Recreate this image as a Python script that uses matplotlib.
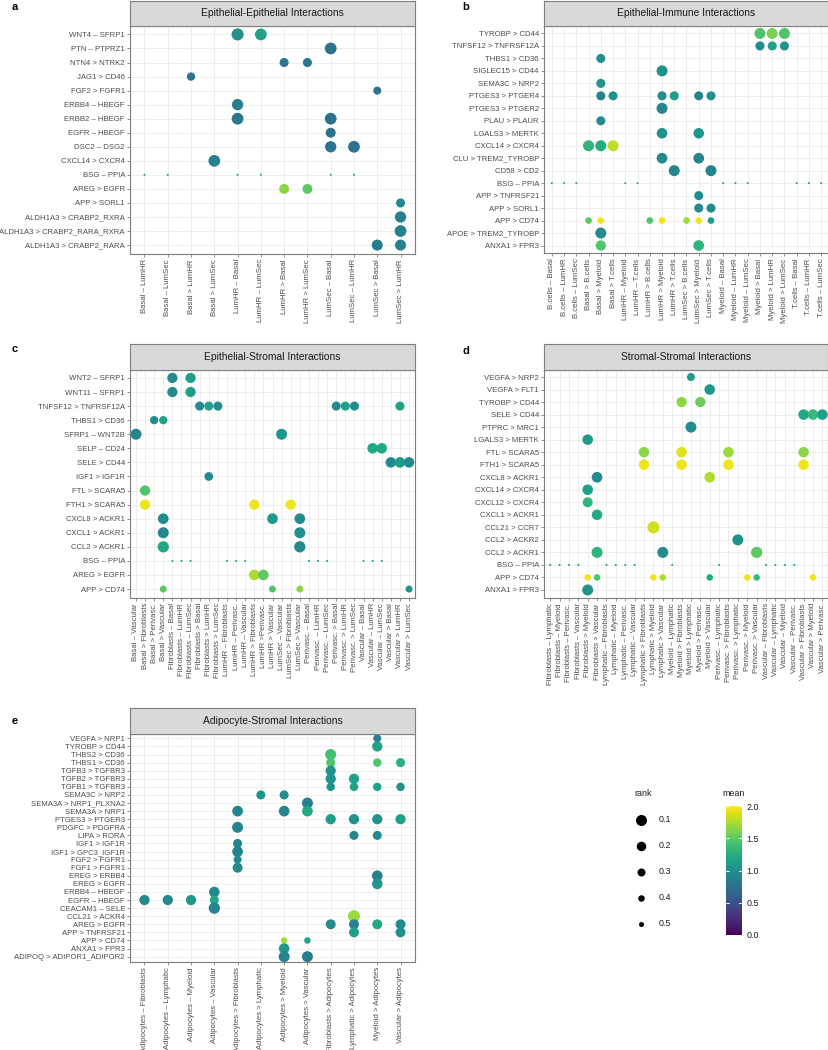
import matplotlib
matplotlib.use("Agg")
import matplotlib.pyplot as plt
from matplotlib.colors import Normalize
from matplotlib import colormaps
import numpy as np

plt.rcParams['font.family'] = ['Liberation Sans', 'DejaVu Sans']

D = "\u2013"

# ---------------- Panel a ----------------
a_title = "Epithelial-Epithelial Interactions"
a_rows = [f"WNT4 {D} SFRP1", f"PTN {D} PTPRZ1", "NTN4 > NTRK2", "JAG1 > CD46", "FGF2 > FGFR1",
          f"ERBB4 {D} HBEGF", f"ERBB2 {D} HBEGF", f"EGFR {D} HBEGF", f"DSC2 {D} DSG2", "CXCL14 > CXCR4",
          f"BSG {D} PPIA", "AREG > EGFR", "APP > SORL1", "ALDH1A3 > CRABP2_RXRA",
          "ALDH1A3 > CRABP2_RARA_RXRA", "ALDH1A3 > CRABP2_RARA"]
a_cols = [f"Basal {D} LumHR", f"Basal {D} LumSec", "Basal > LumHR", "Basal > LumSec",
          f"LumHR {D} Basal", f"LumHR {D} LumSec", "LumHR > Basal", "LumHR > LumSec",
          f"LumSec {D} Basal", f"LumSec {D} LumHR", "LumSec > Basal", "LumSec > LumHR"]
a_points = [
    (f"WNT4 {D} SFRP1", 4, 1.0, 0.03), (f"WNT4 {D} SFRP1", 5, 1.15, 0.05),
    (f"PTN {D} PTPRZ1", 8, 0.75, 0.05),
    ("NTN4 > NTRK2", 6, 0.78, 0.23), ("NTN4 > NTRK2", 7, 0.78, 0.23),
    ("JAG1 > CD46", 2, 0.75, 0.28),
    ("FGF2 > FGFR1", 10, 0.75, 0.30),
    (f"ERBB4 {D} HBEGF", 4, 0.85, 0.08),
    (f"ERBB2 {D} HBEGF", 4, 0.78, 0.05), (f"ERBB2 {D} HBEGF", 8, 0.72, 0.05),
    (f"EGFR {D} HBEGF", 8, 0.75, 0.17),
    (f"DSC2 {D} DSG2", 8, 0.75, 0.08), (f"DSC2 {D} DSG2", 9, 0.75, 0.05),
    ("CXCL14 > CXCR4", 3, 0.88, 0.05),
    (f"BSG {D} PPIA", 0, 1.1, 0.7), (f"BSG {D} PPIA", 1, 1.1, 0.7), (f"BSG {D} PPIA", 4, 1.1, 0.7),
    (f"BSG {D} PPIA", 5, 1.1, 0.7), (f"BSG {D} PPIA", 8, 1.1, 0.7), (f"BSG {D} PPIA", 9, 1.1, 0.7),
    ("AREG > EGFR", 6, 1.65, 0.17), ("AREG > EGFR", 7, 1.5, 0.17),
    ("APP > SORL1", 11, 0.92, 0.23),
    ("ALDH1A3 > CRABP2_RXRA", 11, 0.85, 0.08),
    ("ALDH1A3 > CRABP2_RARA_RXRA", 11, 0.85, 0.05),
    ("ALDH1A3 > CRABP2_RARA", 10, 0.85, 0.10), ("ALDH1A3 > CRABP2_RARA", 11, 0.85, 0.10),
]

# ---------------- Panel b ----------------
b_title = "Epithelial-Immune Interactions"
b_rows = ["TYROBP > CD44", "TNFSF12 > TNFRSF12A", "THBS1 > CD36", "SIGLEC15 > CD44", "SEMA3C > NRP2",
          "PTGES3 > PTGER4", "PTGES3 > PTGER2", "PLAU > PLAUR", "LGALS3 > MERTK", "CXCL14 > CXCR4",
          "CLU > TREM2_TYROBP", "CD58 > CD2", f"BSG {D} PPIA", "APP > TNFRSF21", "APP > SORL1",
          "APP > CD74", "APOE > TREM2_TYROBP", "ANXA1 > FPR3"]
b_cols = [f"B.cells {D} Basal", f"B.cells {D} LumHR", f"B.cells {D} LumSec", "Basal > B.cells",
          "Basal > Myeloid", "Basal > T.cells", f"LumHR {D} Myeloid", f"LumHR {D} T.cells",
          "LumHR > B.cells", "LumHR > Myeloid", "LumHR > T.cells", "LumSec > B.cells",
          "LumSec > Myeloid", "LumSec > T.cells", f"Myeloid {D} Basal", f"Myeloid {D} LumHR",
          f"Myeloid {D} LumSec", "Myeloid > Basal", "Myeloid > LumHR", "Myeloid > LumSec",
          f"T.cells {D} Basal", f"T.cells {D} LumHR", f"T.cells {D} LumSec"]
b_points = [
    ("TYROBP > CD44", 17, 1.45, 0.10), ("TYROBP > CD44", 18, 1.6, 0.10), ("TYROBP > CD44", 19, 1.45, 0.10),
    ("TNFSF12 > TNFRSF12A", 17, 0.95, 0.23), ("TNFSF12 > TNFRSF12A", 18, 1.15, 0.23),
    ("TNFSF12 > TNFRSF12A", 19, 1.0, 0.23),
    ("THBS1 > CD36", 4, 1.0, 0.23),
    ("SIGLEC15 > CD44", 9, 1.02, 0.10),
    ("SEMA3C > NRP2", 4, 1.02, 0.23),
    ("PTGES3 > PTGER4", 4, 0.9, 0.23), ("PTGES3 > PTGER4", 5, 1.02, 0.23),
    ("PTGES3 > PTGER4", 9, 0.97, 0.23), ("PTGES3 > PTGER4", 10, 1.12, 0.23),
    ("PTGES3 > PTGER4", 12, 0.9, 0.23), ("PTGES3 > PTGER4", 13, 1.0, 0.23),
    ("PTGES3 > PTGER2", 9, 0.9, 0.10),
    ("PLAU > PLAUR", 4, 0.97, 0.23),
    ("LGALS3 > MERTK", 9, 1.02, 0.13), ("LGALS3 > MERTK", 12, 1.05, 0.13),
    ("CXCL14 > CXCR4", 3, 1.3, 0.10), ("CXCL14 > CXCR4", 4, 1.22, 0.10), ("CXCL14 > CXCR4", 5, 1.8, 0.10),
    ("CLU > TREM2_TYROBP", 9, 0.95, 0.12), ("CLU > TREM2_TYROBP", 12, 0.9, 0.12),
    ("CD58 > CD2", 10, 0.9, 0.10), ("CD58 > CD2", 13, 0.9, 0.10),
    (f"BSG {D} PPIA", 0, 1.1, 0.7), (f"BSG {D} PPIA", 1, 1.1, 0.7), (f"BSG {D} PPIA", 2, 1.1, 0.7),
    (f"BSG {D} PPIA", 6, 1.1, 0.7), (f"BSG {D} PPIA", 7, 1.1, 0.7), (f"BSG {D} PPIA", 14, 1.1, 0.7),
    (f"BSG {D} PPIA", 15, 1.1, 0.7), (f"BSG {D} PPIA", 16, 1.1, 0.7), (f"BSG {D} PPIA", 20, 1.1, 0.7),
    (f"BSG {D} PPIA", 21, 1.1, 0.7), (f"BSG {D} PPIA", 22, 1.1, 0.7),
    ("APP > TNFRSF21", 12, 0.98, 0.23),
    ("APP > SORL1", 12, 0.95, 0.23), ("APP > SORL1", 13, 0.95, 0.23),
    ("APP > CD74", 3, 1.5, 0.39), ("APP > CD74", 4, 1.95, 0.39), ("APP > CD74", 8, 1.45, 0.39),
    ("APP > CD74", 9, 1.95, 0.39), ("APP > CD74", 11, 1.7, 0.39), ("APP > CD74", 12, 1.95, 0.39),
    ("APP > CD74", 13, 1.1, 0.39),
    ("APOE > TREM2_TYROBP", 4, 0.95, 0.10),
    ("ANXA1 > FPR3", 4, 1.45, 0.15), ("ANXA1 > FPR3", 12, 1.3, 0.12),
]

# ---------------- Panel c ----------------
c_title = "Epithelial-Stromal Interactions"
c_rows = [f"WNT2 {D} SFRP1", f"WNT11 {D} SFRP1", "TNFSF12 > TNFRSF12A", "THBS1 > CD36", f"SFRP1 {D} WNT2B",
          f"SELP {D} CD24", "SELE > CD44", "IGF1 > IGF1R", "FTL > SCARA5", "FTH1 > SCARA5",
          "CXCL8 > ACKR1", "CXCL1 > ACKR1", "CCL2 > ACKR1", f"BSG {D} PPIA", "AREG > EGFR", "APP > CD74"]
c_cols = [f"Basal {D} Vascular", "Basal > Fibroblasts", "Basal > Perivasc.", "Basal > Vascular",
          f"Fibroblasts {D} Basal", f"Fibroblasts {D} LumHR", f"Fibroblasts {D} LumSec",
          "Fibroblasts > Basal", "Fibroblasts > LumHR", "Fibroblasts > LumSec",
          f"LumHR {D} Fibroblasts", f"LumHR {D} Perivasc.", f"LumHR {D} Vascular",
          "LumHR > Fibroblasts", "LumHR >Perivasc.", "LumHR > Vascular", f"LumSec {D} Vascular",
          "LumSec > Fibroblasts", "LumSec > Vascular", f"Perivasc. {D} Basal", f"Perivasc. {D} LumHR",
          f"Perivasc. {D} LumSec", "Perivasc. > Basal", "Perivasc. > LumHR", "Perivasc. > LumSec",
          f"Vascular {D} Basal", f"Vascular {D} LumHR", f"Vascular {D} LumSec", "Vascular > Basal",
          "Vascular > LumHR", "Vascular > LumSec"]
c_points = [
    (f"WNT2 {D} SFRP1", 4, 0.95, 0.15), (f"WNT2 {D} SFRP1", 6, 1.12, 0.15),
    (f"WNT11 {D} SFRP1", 4, 0.95, 0.15), (f"WNT11 {D} SFRP1", 6, 1.12, 0.15),
    ("TNFSF12 > TNFRSF12A", 7, 0.95, 0.23), ("TNFSF12 > TNFRSF12A", 8, 1.15, 0.23),
    ("TNFSF12 > TNFRSF12A", 9, 0.98, 0.23), ("TNFSF12 > TNFRSF12A", 22, 0.95, 0.23),
    ("TNFSF12 > TNFRSF12A", 23, 1.15, 0.23), ("TNFSF12 > TNFRSF12A", 24, 0.98, 0.23),
    ("TNFSF12 > TNFRSF12A", 29, 1.15, 0.23),
    ("THBS1 > CD36", 2, 0.95, 0.28), ("THBS1 > CD36", 3, 1.15, 0.28),
    (f"SFRP1 {D} WNT2B", 0, 0.92, 0.10), (f"SFRP1 {D} WNT2B", 16, 1.05, 0.10),
    (f"SELP {D} CD24", 26, 1.2, 0.13), (f"SELP {D} CD24", 27, 1.2, 0.13),
    ("SELE > CD44", 28, 0.95, 0.13), ("SELE > CD44", 29, 1.1, 0.13), ("SELE > CD44", 30, 0.95, 0.13),
    ("IGF1 > IGF1R", 8, 0.95, 0.25),
    ("FTL > SCARA5", 1, 1.45, 0.15),
    ("FTH1 > SCARA5", 1, 1.95, 0.15), ("FTH1 > SCARA5", 13, 1.95, 0.15), ("FTH1 > SCARA5", 17, 1.95, 0.15),
    ("CXCL8 > ACKR1", 3, 0.95, 0.12), ("CXCL8 > ACKR1", 15, 1.08, 0.12), ("CXCL8 > ACKR1", 18, 0.95, 0.12),
    ("CXCL1 > ACKR1", 3, 0.93, 0.10), ("CXCL1 > ACKR1", 18, 1.0, 0.10),
    ("CCL2 > ACKR1", 3, 1.2, 0.08), ("CCL2 > ACKR1", 18, 0.95, 0.08),
    (f"BSG {D} PPIA", 4, 1.1, 0.7), (f"BSG {D} PPIA", 5, 1.1, 0.7), (f"BSG {D} PPIA", 6, 1.1, 0.7),
    (f"BSG {D} PPIA", 10, 1.1, 0.7), (f"BSG {D} PPIA", 11, 1.1, 0.7), (f"BSG {D} PPIA", 12, 1.1, 0.7),
    (f"BSG {D} PPIA", 19, 1.1, 0.7), (f"BSG {D} PPIA", 20, 1.1, 0.7), (f"BSG {D} PPIA", 21, 1.1, 0.7),
    (f"BSG {D} PPIA", 25, 1.1, 0.7), (f"BSG {D} PPIA", 26, 1.1, 0.7), (f"BSG {D} PPIA", 27, 1.1, 0.7),
    ("AREG > EGFR", 13, 1.75, 0.13), ("AREG > EGFR", 14, 1.5, 0.13),
    ("APP > CD74", 3, 1.5, 0.37), ("APP > CD74", 15, 1.45, 0.37), ("APP > CD74", 18, 1.65, 0.37),
    ("APP > CD74", 30, 1.05, 0.37),
]

# ---------------- Panel d ----------------
d_title = "Stromal-Stromal Interactions"
d_rows = ["VEGFA > NRP2", "VEGFA > FLT1", "TYROBP > CD44", "SELE > CD44", "PTPRC > MRC1",
          "LGALS3 > MERTK", "FTL > SCARA5", "FTH1 > SCARA5", "CXCL8 > ACKR1", "CXCL14 > CXCR4",
          "CXCL12 > CXCR4", "CXCL1 > ACKR1", "CCL21 > CCR7", "CCL2 > ACKR2", "CCL2 > ACKR1",
          f"BSG {D} PPIA", "APP > CD74", "ANXA1 > FPR3"]
d_cols = [f"Fibroblasts {D} Lymphatic", f"Fibroblasts {D} Myeloid", f"Fibroblasts {D} Perivasc.",
          f"Fibroblasts {D} Vascular", "Fibroblasts > Myeloid", "Fibroblasts > Vascular",
          f"Lymphatic {D} Fibroblasts", f"Lymphatic {D} Myeloid", f"Lymphatic {D} Perivasc.",
          f"Lymphatic {D} Vascular", "Lymphatic > Fibroblasts", "Lymphatic > Myeloid",
          "Lymphatic > Vascular", f"Myeloid {D} Lymphatic", "Myeloid > Fibroblasts",
          "Myeloid > Lymphatic", "Myeloid > Perivasc.", "Myeloid > Vascular",
          f"Perivasc. {D} Lymphatic", "Perivasc. > Fibroblasts", "Perivasc. > Lymphatic",
          "Perivasc. > Myeloid", "Perivasc. > Vascular", f"Vascular {D} Fibroblasts",
          f"Vascular {D} Lymphatic", f"Vascular {D} Myeloid", f"Vascular {D} Perivasc.",
          "Vascular > Fibroblasts", "Vascular > Myeloid", "Vascular > Perivasc."]
d_points = [
    ("VEGFA > NRP2", 15, 1.1, 0.30),
    ("VEGFA > FLT1", 17, 1.05, 0.13),
    ("TYROBP > CD44", 14, 1.65, 0.15), ("TYROBP > CD44", 16, 1.55, 0.15),
    ("SELE > CD44", 27, 1.2, 0.13), ("SELE > CD44", 28, 1.35, 0.13), ("SELE > CD44", 29, 1.12, 0.13),
    ("PTPRC > MRC1", 15, 0.95, 0.10),
    ("LGALS3 > MERTK", 4, 1.1, 0.13),
    ("FTL > SCARA5", 10, 1.65, 0.13), ("FTL > SCARA5", 14, 1.9, 0.13), ("FTL > SCARA5", 19, 1.7, 0.13),
    ("FTL > SCARA5", 27, 1.65, 0.13),
    ("FTH1 > SCARA5", 10, 1.95, 0.13), ("FTH1 > SCARA5", 14, 1.95, 0.13), ("FTH1 > SCARA5", 19, 1.95, 0.13),
    ("FTH1 > SCARA5", 27, 1.95, 0.13),
    ("CXCL8 > ACKR1", 5, 0.95, 0.12), ("CXCL8 > ACKR1", 17, 1.75, 0.13),
    ("CXCL14 > CXCR4", 4, 1.15, 0.13),
    ("CXCL12 > CXCR4", 4, 1.3, 0.17),
    ("CXCL1 > ACKR1", 5, 1.2, 0.13),
    ("CCL21 > CCR7", 11, 1.85, 0.03),
    ("CCL2 > ACKR2", 20, 1.0, 0.10),
    ("CCL2 > ACKR1", 5, 1.3, 0.10), ("CCL2 > ACKR1", 12, 0.95, 0.10), ("CCL2 > ACKR1", 22, 1.5, 0.08),
    (f"BSG {D} PPIA", 0, 1.1, 0.7), (f"BSG {D} PPIA", 1, 1.1, 0.7), (f"BSG {D} PPIA", 2, 1.1, 0.7),
    (f"BSG {D} PPIA", 3, 1.1, 0.7), (f"BSG {D} PPIA", 6, 1.1, 0.7), (f"BSG {D} PPIA", 7, 1.1, 0.7),
    (f"BSG {D} PPIA", 8, 1.1, 0.7), (f"BSG {D} PPIA", 9, 1.1, 0.7), (f"BSG {D} PPIA", 13, 1.1, 0.7),
    (f"BSG {D} PPIA", 18, 1.1, 0.7), (f"BSG {D} PPIA", 23, 1.1, 0.7), (f"BSG {D} PPIA", 24, 1.1, 0.7),
    (f"BSG {D} PPIA", 25, 1.1, 0.7), (f"BSG {D} PPIA", 26, 1.1, 0.7),
    ("APP > CD74", 4, 1.95, 0.40), ("APP > CD74", 5, 1.45, 0.40), ("APP > CD74", 11, 1.95, 0.40),
    ("APP > CD74", 12, 1.75, 0.40), ("APP > CD74", 17, 1.2, 0.40), ("APP > CD74", 21, 1.95, 0.40),
    ("APP > CD74", 22, 1.35, 0.40), ("APP > CD74", 28, 1.95, 0.40),
    ("ANXA1 > FPR3", 4, 1.0, 0.10),
]

# ---------------- Panel e ----------------
e_title = "Adipocyte-Stromal Interactions"
e_rows = ["VEGFA > NRP1", "TYROBP > CD44", "THBS2 > CD36", "THBS1 > CD36", "TGFB3 > TGFBR3",
          "TGFB2 > TGFBR3", "TGFB1 > TGFBR3", "SEMA3C > NRP2", "SEMA3A > NRP1_PLXNA2", "SEMA3A > NRP1",
          "PTGES3 > PTGER3", "PDGFC > PDGFRA", "LIPA > RORA", "IGF1 > IGF1R", "IGF1 > GPC3_IGF1R",
          "FGF2 > FGFR1", "FGF1 > FGFR1", "EREG > ERBB4", "EREG > EGFR", f"ERBB4 {D} HBEGF",
          f"EGFR {D} HBEGF", f"CEACAM1 {D} SELE", "CCL21 > ACKR4", "AREG > EGFR", "APP > TNFRSF21",
          "APP > CD74", "ANXA1 > FPR3", "ADIPOQ > ADIPOR1_ADIPOR2"]
e_cols = [f"Adipocytes {D} Fibroblasts", f"Adipocytes {D} Lymphatic", f"Adipocytes {D} Myeloid",
          f"Adipocytes {D} Vascular", "Adipocytes > Fibroblasts", "Adipocytes > Lymphatic",
          "Adipocytes > Myeloid", "Adipocytes > Vascular", "Fibroblasts > Adipocytes",
          "Lymphatic > Adipocytes", "Myeloid > Adipocytes", "Vascular > Adipocytes"]
e_points = [
    ("VEGFA > NRP1", 10, 0.85, 0.30),
    ("TYROBP > CD44", 10, 1.15, 0.15),
    ("THBS2 > CD36", 8, 1.4, 0.10),
    ("THBS1 > CD36", 8, 1.45, 0.23), ("THBS1 > CD36", 10, 1.45, 0.27), ("THBS1 > CD36", 11, 1.25, 0.23),
    ("TGFB3 > TGFBR3", 8, 1.0, 0.15),
    ("TGFB2 > TGFBR3", 8, 1.0, 0.15), ("TGFB2 > TGFBR3", 9, 1.15, 0.15),
    ("TGFB1 > TGFBR3", 8, 1.05, 0.27), ("TGFB1 > TGFBR3", 9, 1.15, 0.27),
    ("TGFB1 > TGFBR3", 10, 1.15, 0.27), ("TGFB1 > TGFBR3", 11, 1.0, 0.27),
    ("SEMA3C > NRP2", 5, 1.05, 0.23), ("SEMA3C > NRP2", 6, 0.95, 0.23),
    ("SEMA3A > NRP1_PLXNA2", 7, 0.85, 0.10),
    ("SEMA3A > NRP1", 4, 0.9, 0.12), ("SEMA3A > NRP1", 6, 0.9, 0.12), ("SEMA3A > NRP1", 7, 1.2, 0.12),
    ("PTGES3 > PTGER3", 8, 1.1, 0.15), ("PTGES3 > PTGER3", 9, 1.0, 0.15),
    ("PTGES3 > PTGER3", 10, 1.05, 0.15), ("PTGES3 > PTGER3", 11, 1.15, 0.15),
    ("PDGFC > PDGFRA", 4, 0.9, 0.10),
    ("LIPA > RORA", 9, 0.9, 0.23), ("LIPA > RORA", 10, 0.95, 0.23),
    ("IGF1 > IGF1R", 4, 0.9, 0.23),
    ("IGF1 > GPC3_IGF1R", 4, 0.88, 0.12),
    ("FGF2 > FGFR1", 4, 0.95, 0.30),
    ("FGF1 > FGFR1", 4, 0.95, 0.17),
    ("EREG > ERBB4", 10, 0.85, 0.12),
    ("EREG > EGFR", 10, 1.05, 0.13),
    (f"ERBB4 {D} HBEGF", 3, 0.95, 0.13),
    (f"EGFR {D} HBEGF", 0, 0.95, 0.15), (f"EGFR {D} HBEGF", 1, 0.95, 0.15),
    (f"EGFR {D} HBEGF", 2, 1.05, 0.15), (f"EGFR {D} HBEGF", 3, 1.2, 0.23),
    (f"CEACAM1 {D} SELE", 3, 0.9, 0.08),
    ("CCL21 > ACKR4", 9, 1.7, 0.03),
    ("AREG > EGFR", 8, 0.95, 0.17), ("AREG > EGFR", 9, 0.9, 0.17),
    ("AREG > EGFR", 10, 1.2, 0.17), ("AREG > EGFR", 11, 0.95, 0.17),
    ("APP > TNFRSF21", 9, 1.15, 0.17), ("APP > TNFRSF21", 11, 1.0, 0.17),
    ("APP > CD74", 6, 1.7, 0.40), ("APP > CD74", 7, 1.15, 0.40),
    ("ANXA1 > FPR3", 6, 1.1, 0.13),
    ("ADIPOQ > ADIPOR1_ADIPOR2", 6, 0.9, 0.10), ("ADIPOQ > ADIPOR1_ADIPOR2", 7, 0.85, 0.10),
]

legend_ranks = [0.1, 0.2, 0.3, 0.4, 0.5]
mean_ticks = [0.0, 0.5, 1.0, 1.5, 2.0]

# ---------------- figure ----------------
W, H = 829, 1050
fig = plt.figure(figsize=(W / 100, H / 100), dpi=100)
cmap = colormaps['viridis']
norm = Normalize(0, 2)
TXT = '#4D4D4D'
BORDER = '#7F7F7F'
FS = 5.6


def size_pt2(r):
    d_px = max(12.5 - 15.0 * r, 1.7)
    d_pt = d_px * 72 / 100
    return d_pt ** 2


def px_axes(L, T, R, B):
    return fig.add_axes([L / W, 1 - B / H, (R - L) / W, (B - T) / H])


def draw_panel(box, strip_top, title, rows, cols, pts, letter, letter_xy):
    L, T, R, B = box
    ax = px_axes(L, T, R, B)
    n, m = len(cols), len(rows)
    ax.set_xlim(-0.6, n - 1 + 0.6)
    ax.set_ylim(-0.6, m - 1 + 0.6)
    ypos = {r: m - 1 - i for i, r in enumerate(rows)}
    xs = [p[1] for p in pts]
    ys = [ypos[p[0]] for p in pts]
    ax.scatter(xs, ys, s=[size_pt2(p[3]) for p in pts], c=[p[2] for p in pts],
               cmap=cmap, norm=norm, linewidths=0, zorder=3)
    ax.set_xticks(range(n))
    ax.set_xticklabels(cols, rotation=90, fontsize=FS, color=TXT)
    ax.set_yticks([ypos[r] for r in rows])
    ax.set_yticklabels(rows, fontsize=FS, color=TXT)
    ax.grid(True, color='#EBEBEB', lw=0.6)
    ax.set_axisbelow(True)
    ax.tick_params(length=2.5, width=0.6, color=BORDER, pad=1.5)
    for s in ax.spines.values():
        s.set_color(BORDER)
        s.set_linewidth(0.8)
    sax = px_axes(L, strip_top, R, T)
    sax.set_facecolor('#D9D9D9')
    sax.set_xticks([])
    sax.set_yticks([])
    for s in sax.spines.values():
        s.set_color(BORDER)
        s.set_linewidth(0.8)
    sax.text(0.5, 0.5, title, ha='center', va='center', fontsize=7.4, color='#1A1A1A',
             transform=sax.transAxes)
    fig.text(letter_xy[0] / W, 1 - letter_xy[1] / H, letter, fontsize=8, fontweight='bold',
             ha='center', va='center')


draw_panel((130.5, 26, 414.5, 253.5), 1, a_title, a_rows, a_cols, a_points, 'a', (15, 7))
draw_panel((544.5, 26, 828.5, 253), 1, b_title, b_rows, b_cols, b_points, 'b', (466, 7))
draw_panel((130.5, 369.5, 414.5, 597.5), 344, c_title, c_rows, c_cols, c_points, 'c', (15, 349))
draw_panel((544.5, 369.5, 828, 597.5), 344, d_title, d_rows, d_cols, d_points, 'd', (466, 351))
draw_panel((130.5, 733.5, 414.5, 961.5), 708, e_title, e_rows, e_cols, e_points, 'e', (15, 721))

# ---------------- legends ----------------
lax = fig.add_axes([0, 0, 1, 1], facecolor='none')
lax.set_xlim(0, W)
lax.set_ylim(H, 0)
lax.axis('off')
lax.text(634, 794, 'rank', fontsize=6.4, color='#1A1A1A', ha='left', va='center')
for i, r in enumerate(legend_ranks):
    y = 820 + i * 26
    lax.scatter([641], [y], s=size_pt2(r), c='black', linewidths=0)
    lax.text(659, y, f"{r:.1f}", fontsize=6.4, color='#1A1A1A', ha='left', va='center')

lax.text(722, 793, 'mean', fontsize=6.4, color='#1A1A1A', ha='left', va='center')
cax = px_axes(726, 806, 742, 935)
grad = np.linspace(0, 2, 256).reshape(-1, 1)
cax.imshow(grad, aspect='auto', cmap=cmap, norm=norm, origin='lower', extent=[0, 1, 0, 2])
cax.set_xlim(0, 1)
cax.set_ylim(0, 2)
cax.set_xticks([])
cax.yaxis.tick_right()
cax.set_yticks(mean_ticks)
cax.set_yticklabels([f"{t:.1f}" for t in mean_ticks], fontsize=6.4, color='#1A1A1A')
cax.tick_params(axis='y', length=0, pad=3)
for t in mean_ticks:
    cax.plot([0, 0.2], [t, t], color='white', lw=0.6)
    cax.plot([0.8, 1], [t, t], color='white', lw=0.6)
for s in cax.spines.values():
    s.set_visible(False)

fig.savefig('out.png', dpi=100)
